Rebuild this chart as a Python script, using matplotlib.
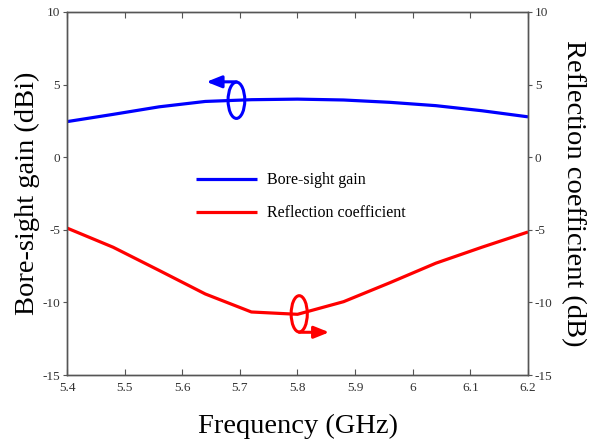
import numpy as np
import matplotlib
matplotlib.use("Agg")
import matplotlib.pyplot as plt
from matplotlib.patches import Ellipse

plt.rcParams['font.family'] = ['Liberation Serif', 'DejaVu Serif']
plt.rcParams['mathtext.fontset'] = 'stix'

freq = [5.40, 5.48, 5.56, 5.64, 5.72, 5.80, 5.88, 5.96, 6.04, 6.12, 6.20]
gain = [2.45, 2.95, 3.47, 3.84, 3.96, 4.00, 3.94, 3.78, 3.55, 3.20, 2.78]
refl = [-4.88, -6.20, -7.80, -9.42, -10.66, -10.82, -9.95, -8.65, -7.30, -6.20, -5.15]
xticks = [5.4, 5.5, 5.6, 5.7, 5.8, 5.9, 6.0, 6.1, 6.2]
xticklabels = ['5.4', '5.5', '5.6', '5.7', '5.8', '5.9', '6', '6.1', '6.2']
yticks = [-15, -10, -5, 0, 5, 10]

fig = plt.figure(figsize=(5.99, 4.43), dpi=100)
ax = fig.add_axes([67/599, 1-375/443, (528-67)/599, (375-12)/443])
ax2 = ax.twinx()

spine_c = '#555555'
tick_c = '#333333'

l1, = ax.plot(freq, gain, color='#0000ff', lw=2.3, label='Bore-sight gain', solid_capstyle='butt')
l2, = ax2.plot(freq, refl, color='#ff0000', lw=2.3, label='Reflection coefficient', solid_capstyle='butt')

for a in (ax, ax2):
    a.set_xlim(5.4, 6.2)
    a.set_ylim(-15, 10)
    a.set_yticks(yticks)
    a.set_yticklabels([str(v) for v in yticks])
    for s in a.spines.values():
        s.set_color(spine_c)
        s.set_linewidth(1.0)

ax.set_xticks(xticks)
ax.set_xticklabels(xticklabels)
ax.tick_params(axis='x', direction='in', length=4, color=spine_c, labelcolor=tick_c,
               labelsize=9.5, top=True, pad=5)
ax.tick_params(axis='y', direction='out', length=3, color=spine_c, labelcolor=tick_c,
               labelsize=9.5, pad=2)
ax2.tick_params(axis='y', direction='out', length=3, color=spine_c, labelcolor=tick_c,
                labelsize=9.5, pad=2)

ax.set_xlabel('Frequency (GHz)', fontsize=20.5, labelpad=14)
ax.set_ylabel('Bore-sight gain (dBi)', fontsize=20.5, labelpad=1.5)
ax2.set_ylabel('Reflection coefficient (dB)', fontsize=20.5, rotation=-90, labelpad=24)

# legend
leg = ax.legend(handles=[l1, l2], loc='upper left',
                frameon=False, fontsize=11.5, handlelength=3.8, handletextpad=0.6,
                labelspacing=1.05, borderaxespad=0)
leg.set_bbox_to_anchor((190/599, 1-166/443), transform=fig.transFigure)

# ellipse annotations
bx = 5.694
by = float(np.interp(bx, freq, gain))
ax.add_patch(Ellipse((bx, by), 0.029, 2.5, fill=False, ec='#0000ff', lw=2.2, zorder=3))
ax.annotate('', xy=(5.642, by + 1.27), xytext=(bx, by + 1.27),
            arrowprops=dict(arrowstyle='-|>,head_length=0.9,head_width=0.36',
                            color='#0000ff', lw=2.2, shrinkA=0, shrinkB=0))

rx = 5.803
ry = float(np.interp(rx, freq, refl))
ax2.add_patch(Ellipse((rx, ry), 0.028, 2.5, fill=False, ec='#ff0000', lw=2.2, zorder=3))
ax2.annotate('', xy=(5.855, ry - 1.27), xytext=(rx, ry - 1.27),
             arrowprops=dict(arrowstyle='-|>,head_length=0.9,head_width=0.36',
                             color='#ff0000', lw=2.2, shrinkA=0, shrinkB=0))

fig.savefig('out.png', dpi=100)
